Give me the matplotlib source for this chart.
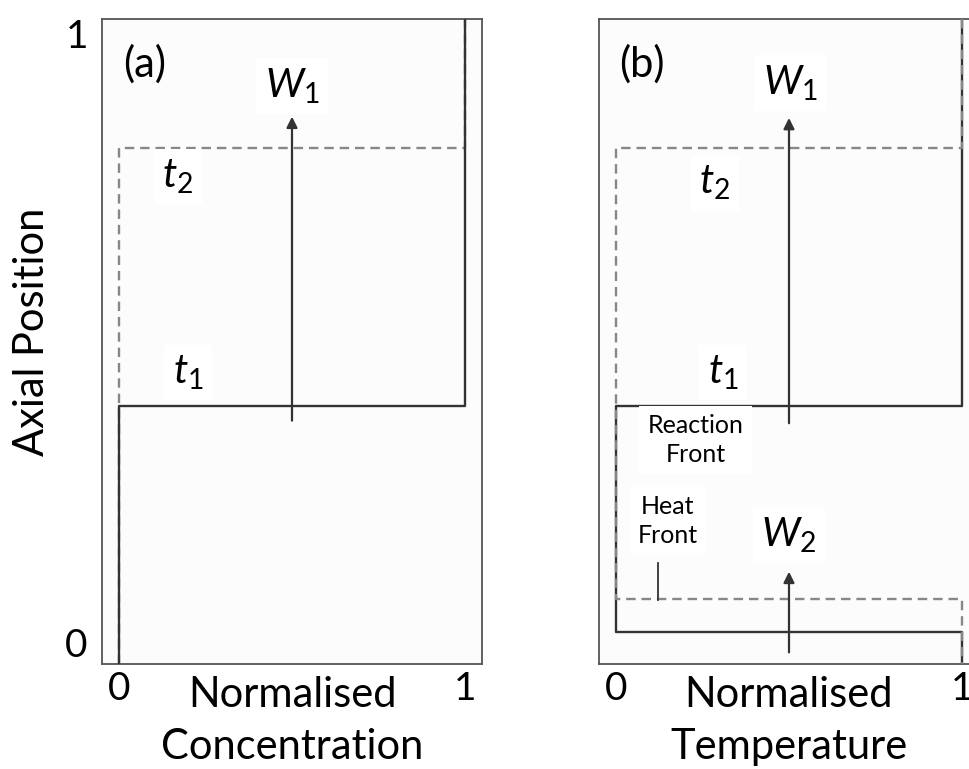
import matplotlib
matplotlib.use("Agg")
import matplotlib.pyplot as plt

plt.rcParams['font.family'] = ['Lato', 'DejaVu Sans']
plt.rcParams['mathtext.fontset'] = 'custom'
plt.rcParams['mathtext.rm'] = 'Lato'
plt.rcParams['mathtext.it'] = 'Lato:italic'

# Concentration profiles (a): normalised value vs axial position
conc_t1_x = [0, 0, 1, 1]
conc_t1_y = [0, 0.40, 0.40, 1]
conc_t2_x = [0, 0, 1, 1]
conc_t2_y = [0, 0.80, 0.80, 1]

# Temperature profiles (b)
temp_t1_x = [1, 1, 0, 0, 1, 1]
temp_t1_y = [1, 0.40, 0.40, 0.05, 0.05, 0]
temp_t2_x = [1, 1, 0, 0, 1, 1]
temp_t2_y = [1, 0.80, 0.80, 0.10, 0.10, 0]

# Wave-velocity arrows: (x, start y, end y)
arrow_w1_a = (0.5, 0.377, 0.848)
arrow_w1_b = (0.5, 0.373, 0.846)
arrow_w2_b = (0.5, 0.018, 0.143)

# Heat-front leader line: (x, bottom y, top y)
heat_leader = (0.12, 0.099, 0.156)

tick_vals = [0, 1]
tick_text = ["0", "1"]

solid_col = '#333333'
dash_col = '#878787'
frame_col = '#555555'
bg_col = '#fcfcfc'

fig = plt.figure(figsize=(9.70, 7.69), dpi=100)
W, H = 970, 769
ax_w = 380.6 / W
ax_h = (664 - 18.5) / H
ax_b = (769 - 664) / H
axa = fig.add_axes([101.7 / W, ax_b, ax_w, ax_h])
axb = fig.add_axes([598.7 / W, ax_b, ax_w, ax_h])

for ax in (axa, axb):
    ax.set_xlim(-0.05, 1.05)
    ax.set_ylim(0, 1)
    ax.set_facecolor(bg_col)
    for s in ax.spines.values():
        s.set_color(frame_col)
        s.set_linewidth(1.3)
    ax.set_xticks(tick_vals)
    ax.set_xticklabels(tick_text, fontsize=28)
    ax.tick_params(axis='x', length=0, pad=5)
    ax.tick_params(axis='y', length=0, pad=10)

axa.set_yticks(tick_vals)
axa.set_yticklabels(tick_text, fontsize=28)
ylabs = axa.get_yticklabels()
ylabs[0].set_verticalalignment('bottom')
ylabs[1].set_verticalalignment('top')
axb.set_yticks([])

dash_kw = dict(color=dash_col, lw=1.7, dashes=(4, 2.5))
solid_kw = dict(color=solid_col, lw=1.7)

# panel (a)
axa.plot(conc_t2_x, conc_t2_y, zorder=2, **dash_kw)
axa.plot(conc_t1_x, conc_t1_y, zorder=3, **solid_kw)

# panel (b)
axb.plot(temp_t1_x, temp_t1_y, zorder=2, **solid_kw)
axb.plot(temp_t2_x, temp_t2_y, zorder=3, **dash_kw)
axb.plot([heat_leader[0]] * 2, heat_leader[1:], color=solid_col, lw=1.3, zorder=3)

arrow_kw = dict(arrowstyle='-|>', color=solid_col, lw=1.6, mutation_scale=16,
                shrinkA=0, shrinkB=0)
for ax, (x, y0, y1) in ((axa, arrow_w1_a), (axb, arrow_w1_b), (axb, arrow_w2_b)):
    ax.annotate('', xy=(x, y1), xytext=(x, y0), arrowprops=arrow_kw, zorder=4)

box = dict(facecolor='white', edgecolor='none', pad=6)
lab_kw = dict(ha='center', va='center', fontsize=29, bbox=box, zorder=5)

axa.text(0.075, 0.93, '(a)', fontsize=30, ha='center', va='center')
axa.text(0.5, 0.895, '$W_1$', **lab_kw)
axa.text(0.17, 0.755, '$t_2$', **lab_kw)
axa.text(0.20, 0.451, '$t_1$', **lab_kw)

axb.text(0.075, 0.93, '(b)', fontsize=30, ha='center', va='center')
axb.text(0.505, 0.90, '$W_1$', **lab_kw)
axb.text(0.285, 0.745, '$t_2$', **lab_kw)
axb.text(0.31, 0.451, '$t_1$', **lab_kw)
axb.text(0.23, 0.347, 'Reaction\nFront', ha='center', va='center', fontsize=18,
         linespacing=1.3, bbox=box, zorder=5)
axb.text(0.15, 0.222, 'Heat\nFront', ha='center', va='center', fontsize=18,
         linespacing=1.3, bbox=box, zorder=5)
axb.text(0.50, 0.20, '$W_2$', **lab_kw)

axa.set_xlabel('Normalised\nConcentration', fontsize=30, linespacing=1.45, labelpad=-22)
axb.set_xlabel('Normalised\nTemperature', fontsize=30, linespacing=1.45, labelpad=-22)
fig.text(32 / W, 1 - 332 / H, 'Axial Position', rotation=90, fontsize=30,
         ha='center', va='center')

fig.savefig('out.png', dpi=100, facecolor='white')
